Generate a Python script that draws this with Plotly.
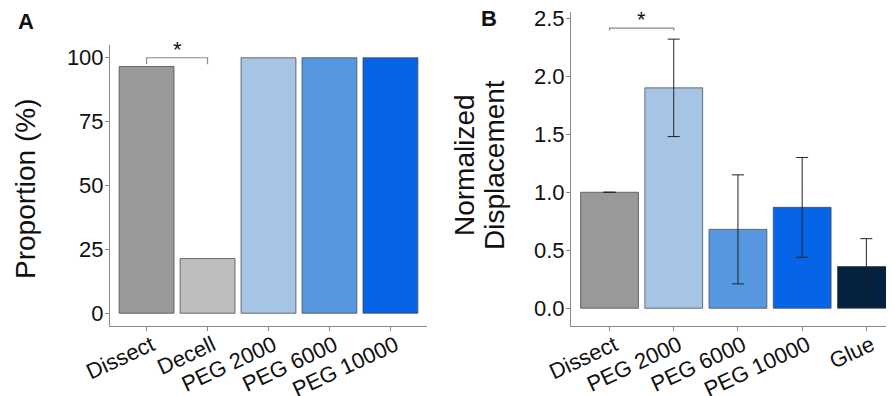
import plotly.graph_objects as go

# ---- data ----
cats_a = ["Dissect", "Decell", "PEG 2000", "PEG 6000", "PEG 10000"]
vals_a = [96.6, 21.4, 100, 100, 100]
colors_a = ["#999999", "#bebebe", "#a6c4e4", "#5797e0", "#0664e6"]
ticks_a = [0, 25, 50, 75, 100]

cats_b = ["Dissect", "PEG 2000", "PEG 6000", "PEG 10000", "Glue"]
vals_b = [1.0, 1.90, 0.68, 0.87, 0.36]
errs_b = [0.0, 0.42, 0.47, 0.43, 0.24]
colors_b = ["#999999", "#a6c4e4", "#5797e0", "#0664e6", "#04223f"]
ticks_b = [0.0, 0.5, 1.0, 1.5, 2.0, 2.5]
ticklabels_b = ["0.0", "0.5", "1.0", "1.5", "2.0", "2.5"]

# significance brackets: (group1, group2, height, tip drop)
sig_a = ("Dissect", "Decell", 100, 2.5)
sig_b = ("Dissect", "PEG 2000", 2.415, 0.02)

FONT = "Liberation Sans, Arial, sans-serif"
OFF = 8                      # default page body margin
FW, FH = 894 - OFF, 396 - OFF

fig = go.Figure()
fig.add_trace(go.Bar(
    x=cats_a, y=vals_a, width=0.9, xaxis="x", yaxis="y",
    marker=dict(color=colors_a, line=dict(color="rgba(70,70,70,0.75)", width=1)),
    showlegend=False, hoverinfo="x+y"))
fig.add_trace(go.Bar(
    x=cats_b, y=vals_b, width=0.9, xaxis="x2", yaxis="y2",
    marker=dict(color=colors_b, line=dict(color="rgba(70,70,70,0.75)", width=1)),
    error_y=dict(type="data", array=errs_b, color="#222222", thickness=1, width=6),
    showlegend=False, hoverinfo="x+y"))

axis_common = dict(showline=True, linecolor="#8a8a8a", linewidth=1, ticks="outside",
                   tickcolor="#8a8a8a", ticklen=4, showgrid=False, zeroline=False,
                   automargin=False, ticklabeloverflow="allow")
yfont = dict(family=FONT, size=22, color="#111")
xfont = dict(family=FONT, size=22, color="#111")
xlab = dict(tickangle=-25, tickfont=xfont, ticklabelstandoff=-7, ticklabelshift=5)
ylab = dict(tickfont=yfont, ticklabelstandoff=-3)

def px_x(p):
    return (p - OFF) / FW

def px_y(p):
    return (FH - (p - OFF)) / FH

fig.update_layout(
    width=FW, height=FH, margin=dict(l=0, r=0, t=0, b=0, autoexpand=False),
    plot_bgcolor="white", paper_bgcolor="white",
    font=dict(family=FONT, color="#111"),
    xaxis=dict(domain=[px_x(110), px_x(427)], range=[-0.6, 4.6], anchor="y",
               **xlab, **axis_common),
    yaxis=dict(domain=[px_y(326), px_y(45)], range=[-5, 105], anchor="x",
               tickvals=ticks_a, **ylab, **axis_common),
    xaxis2=dict(domain=[px_x(571), 1.0], range=[-0.6, 4.43], anchor="y2",
                **xlab, **axis_common),
    yaxis2=dict(domain=[px_y(326), px_y(12)], range=[-0.153, 2.554], anchor="x2",
                tickvals=ticks_b, ticktext=ticklabels_b, **ylab, **axis_common),
)

# significance brackets
def bracket(cats, sig, xref, yref):
    i0, i1 = cats.index(sig[0]), cats.index(sig[1])
    h, d = sig[2], sig[3]
    fig.add_shape(type="path", xref=xref, yref=yref,
                  path=f"M {i0},{h - d} L {i0},{h} L {i1},{h} L {i1},{h - d}",
                  line=dict(color="#8a8a8a", width=1.2))
    fig.add_annotation(x=(i0 + i1) / 2, y=h, xref=xref, yref=yref, text="*",
                       showarrow=False, xanchor="center", yanchor="bottom", yshift=-6,
                       font=dict(family=FONT, size=22, color="#111"))

bracket(cats_a, sig_a, "x", "y")
bracket(cats_b, sig_b, "x2", "y2")

def label(text, x, y, size, angle=0):
    fig.add_annotation(x=px_x(x), y=px_y(y), xref="paper", yref="paper", text=text,
                       textangle=angle, showarrow=False, xanchor="center", yanchor="middle",
                       font=dict(family=FONT, size=size, color="#111"))

# panel letters
label("<b>A</b>", 26, 22, 22)
label("<b>B</b>", 489, 18, 22)

# axis titles
label("Proportion (%)", 25, 189, 28, -90)
label("Normalized", 464, 165, 28, -90)
label("Displacement", 494, 165, 28, -90)

fig.write_html("out.html")
